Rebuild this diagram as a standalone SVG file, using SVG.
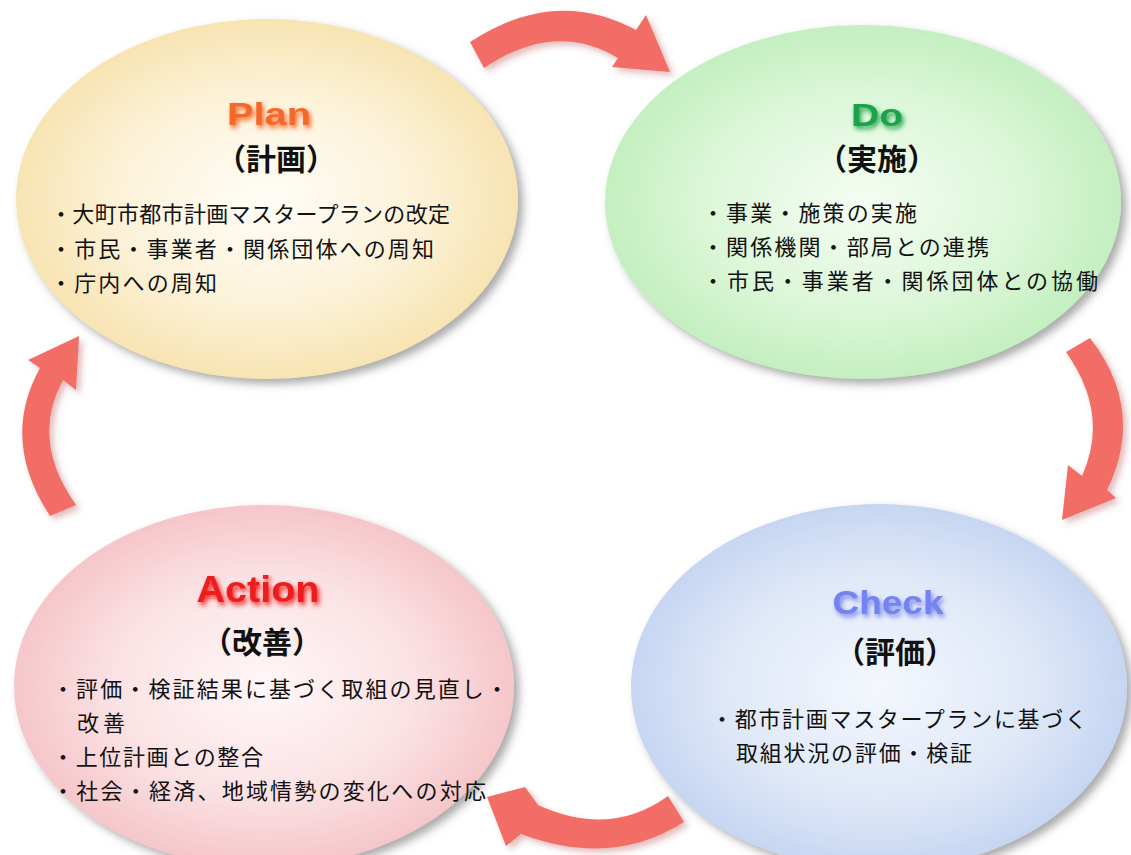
<svg xmlns="http://www.w3.org/2000/svg" width="1131" height="855" viewBox="0 0 1131 855">
<defs>
<radialGradient id="gPlan" cx="50%" cy="50%" r="50%"><stop offset="0" stop-color="#fffdf8"/><stop offset="0.6" stop-color="#fcf2d8"/><stop offset="1" stop-color="#f8e4b2"/></radialGradient>
<radialGradient id="gDo" cx="50%" cy="50%" r="50%"><stop offset="0" stop-color="#f5fdf3"/><stop offset="0.6" stop-color="#dcf7d8"/><stop offset="1" stop-color="#c4efc0"/></radialGradient>
<radialGradient id="gAction" cx="50%" cy="50%" r="50%"><stop offset="0" stop-color="#fff7f8"/><stop offset="0.6" stop-color="#fbe2e4"/><stop offset="1" stop-color="#f5c6ca"/></radialGradient>
<radialGradient id="gCheck" cx="50%" cy="50%" r="50%"><stop offset="0" stop-color="#f4f7fd"/><stop offset="0.6" stop-color="#e0e9f8"/><stop offset="1" stop-color="#c6d6f2"/></radialGradient>
<filter id="ellShadow" x="-10%" y="-10%" width="125%" height="125%"><feDropShadow dx="5" dy="5" stdDeviation="4" flood-color="#555" flood-opacity="0.5"/></filter>
<filter id="arrShadow" x="-20%" y="-20%" width="150%" height="150%"><feDropShadow dx="4" dy="4" stdDeviation="3" flood-color="#b04040" flood-opacity="0.35"/></filter>
<filter id="glow" x="-20%" y="-30%" width="140%" height="170%"><feGaussianBlur in="SourceGraphic" stdDeviation="2.5" result="b"/><feOffset in="b" dx="2" dy="3" result="o"/><feMerge><feMergeNode in="o"/><feMergeNode in="SourceGraphic"/></feMerge></filter>
</defs>
<style>
.title{font-family:"Liberation Sans",Arial,sans-serif;font-weight:bold;text-anchor:middle}
.sub{font-family:"Noto Sans CJK JP",sans-serif;font-weight:bold;font-size:30px;fill:#111;text-anchor:middle}
.item{font-family:"Noto Sans CJK JP",sans-serif;font-size:22px;fill:#111}
.arrow{fill:#f26d66}
</style>
<rect width="1131" height="855" fill="#ffffff"/>

<g id="plan">
<ellipse cx="267" cy="199" rx="251" ry="180" fill="url(#gPlan)" filter="url(#ellShadow)"/>
<text class="title" x="269" y="125" font-size="32" fill="#f4672a" textLength="84" lengthAdjust="spacingAndGlyphs" filter="url(#glow)">Plan</text>
<text class="sub" x="276" y="170">（計画）</text>
<text class="item" x="50" y="222" textLength="400" lengthAdjust="spacing">・大町市都市計画マスタープランの改定</text>
<text class="item" x="50" y="257" textLength="384" lengthAdjust="spacing">・市民・事業者・関係団体への周知</text>
<text class="item" x="50" y="291" textLength="167" lengthAdjust="spacing">・庁内への周知</text>
</g>

<g id="do">
<ellipse cx="863" cy="202" rx="258" ry="177" fill="url(#gDo)" filter="url(#ellShadow)"/>
<text class="title" x="877" y="126" font-size="32" fill="#1ba34a" textLength="52" lengthAdjust="spacingAndGlyphs" filter="url(#glow)">Do</text>
<text class="sub" x="877" y="170">（実施）</text>
<text class="item" x="702" y="221" textLength="215" lengthAdjust="spacing">・事業・施策の実施</text>
<text class="item" x="702" y="255" textLength="287" lengthAdjust="spacing">・関係機関・部局との連携</text>
<text class="item" x="702" y="289" textLength="396" lengthAdjust="spacing">・市民・事業者・関係団体との協働</text>
</g>

<g id="action">
<ellipse cx="264" cy="686" rx="250" ry="181" fill="url(#gAction)" filter="url(#ellShadow)"/>
<text class="title" x="258" y="602" font-size="37" fill="#ee1d1d" textLength="123" lengthAdjust="spacingAndGlyphs" filter="url(#glow)">Action</text>
<text class="sub" x="262" y="653">（改善）</text>
<text class="item" x="52" y="697" textLength="456" lengthAdjust="spacing">・評価・検証結果に基づく取組の見直し・</text>
<text class="item" x="77" y="731" textLength="48" lengthAdjust="spacing">改善</text>
<text class="item" x="52" y="765" textLength="211" lengthAdjust="spacing">・上位計画との整合</text>
<text class="item" x="52" y="799" textLength="434" lengthAdjust="spacing">・社会・経済、地域情勢の変化への対応</text>
</g>

<g id="check">
<ellipse cx="879" cy="687" rx="248" ry="183" fill="url(#gCheck)" filter="url(#ellShadow)"/>
<text class="title" x="888" y="614" font-size="33" fill="#7483ee" textLength="111" lengthAdjust="spacingAndGlyphs" filter="url(#glow)">Check</text>
<text class="sub" x="895" y="663">（評価）</text>
<text class="item" x="711" y="727" textLength="376" lengthAdjust="spacing">・都市計画マスタープランに基づく</text>
<text class="item" x="736" y="761" textLength="236" lengthAdjust="spacing">取組状況の評価・検証</text>
</g>

<g id="connectors" filter="url(#arrShadow)">
<path class="arrow" d="M470,42 Q555,-14 636,30 L646,15 L670,72 L612,67 L618,58 Q555,20 484,68 Z"/>
<path class="arrow" d="M1090,338 Q1146,410 1107,490 L1116,498 L1062,520 L1068,465 L1082,476 Q1110,414 1066,352 Z"/>
<path class="arrow" d="M668,796 Q610,838 538,805 L525,787 L487,797 L506,846 L521,834 Q612,868 684,822 Z"/>
<path class="arrow" d="M50,516 Q0,440 40,368 L28,360 L79,336 L76,390 L63,380 Q30,440 76,505 Z"/>
</g>
</svg>
